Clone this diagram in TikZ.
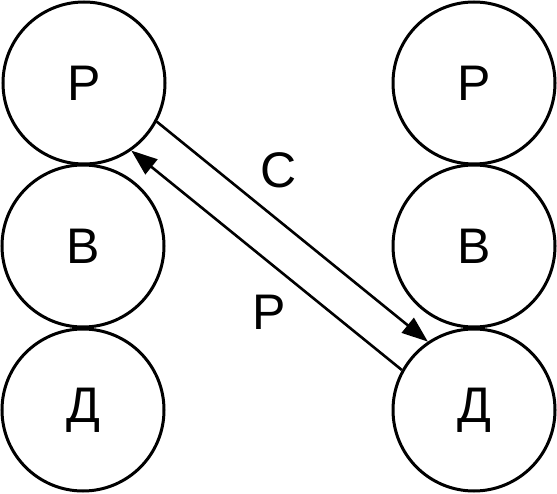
\documentclass[tikz,border=0pt]{standalone}
\usepackage{fontspec}
\setmainfont{Liberation Sans}
\usetikzlibrary{arrows.meta}
\begin{document}
\begin{tikzpicture}[x=1pt,y=-1pt,
  ball/.style={draw,circle,line width=3pt,minimum size=162pt,inner sep=0pt,font=\fontsize{50}{60}\selectfont},
  link/.style={line width=2.6pt,-{Triangle[length=26pt,width=19pt]}},
  lbl/.style={font=\fontsize{50}{60}\selectfont,inner sep=0pt}]
\useasboundingbox (0,0) rectangle (557,494);
\node[ball] (lr) at (84,83) {Р};
\node[ball] (lv) at (83,246) {В};
\node[ball] (ld) at (83,410) {Д};
\node[ball] (rr) at (474,83) {Р};
\node[ball] (rv) at (474,246) {В};
\node[ball] (rd) at (474,410) {Д};
\draw[link] (lr.-28) -- (rd.124);
\draw[link] (rd.151) -- (lr.-55);
\node[lbl] (c) at (279,170) {С};
\node[lbl] (p) at (269,312) {Р};
\end{tikzpicture}
\end{document}
